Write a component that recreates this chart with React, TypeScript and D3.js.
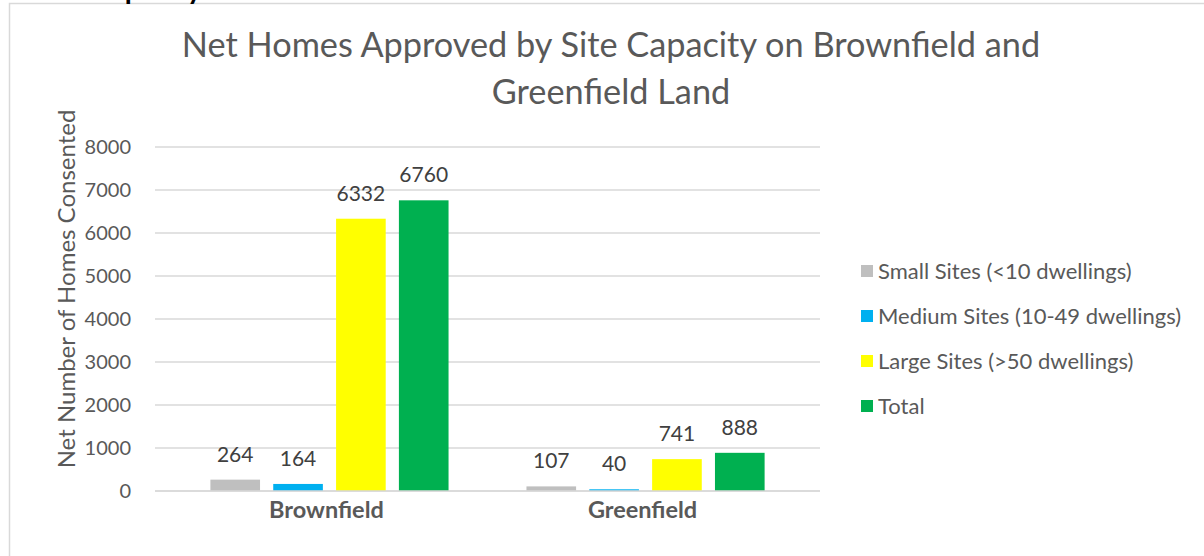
import React, { useEffect, useRef } from 'react';
import * as d3 from 'd3';

const categories = ['Brownfield', 'Greenfield'];
const seriesNames = [
  'Small Sites (<10 dwellings)',
  'Medium Sites (10-49 dwellings)',
  'Large Sites (>50 dwellings)',
  'Total',
];
const seriesColors = ['#bfbfbf', '#00b0f0', '#ffff00', '#00b050'];
// values[series][category]
const smallSites = [264, 107];
const mediumSites = [164, 40];
const largeSites = [6332, 741];
const totals = [6760, 888];
const yTicks = [0, 1000, 2000, 3000, 4000, 5000, 6000, 7000, 8000];

const FONT = 'Lato, "Open Sans", sans-serif';

const App: React.FC = () => {
  const ref = useRef<SVGSVGElement>(null);

  useEffect(() => {
    if (!ref.current) return;
    const svg = d3.select(ref.current);
    svg.selectAll('*').remove();

    const W = 1204;
    const H = 556;
    const plot = { left: 155, right: 820, top: 147, bottom: 491 };
    const values = [smallSites, mediumSites, largeSites, totals];

    // chart border
    svg.append('rect')
      .attr('x', 9.5).attr('y', 3.5)
      .attr('width', W + 10).attr('height', H + 10)
      .attr('fill', '#fff').attr('stroke', '#d9d9d9').attr('stroke-width', 1.5);

    // heading above the chart, mostly outside the view (only descenders show)
    svg.append('text')
      .attr('x', 36).attr('y', -1)
      .attr('font-family', FONT).attr('font-weight', 700).attr('font-size', 28.5)
      .attr('fill', '#000')
      .text('Site Capacity');

    const y = d3.scaleLinear().domain([0, 8000]).range([plot.bottom, plot.top]);
    const x0 = d3.scaleBand<string>().domain(categories)
      .range([plot.left, plot.right]).paddingInner(0).paddingOuter(0.052);
    const x1 = d3.scaleBand<string>().domain(seriesNames)
      .range([0, x0.bandwidth()]).paddingInner(0.21).paddingOuter(0.62);

    // gridlines
    svg.append('g').selectAll('line').data(yTicks).join('line')
      .attr('x1', plot.left).attr('x2', plot.right)
      .attr('y1', d => y(d)).attr('y2', d => y(d))
      .attr('stroke', '#d9d9d9').attr('stroke-width', 1.5);

    // y tick labels
    svg.append('g').selectAll('text').data(yTicks).join('text')
      .attr('x', 131).attr('y', d => y(d)).attr('dy', '0.35em')
      .attr('text-anchor', 'end')
      .attr('font-family', FONT).attr('font-size', 20).attr('fill', '#595959')
      .text(d => String(d));

    // y axis title
    svg.append('text')
      .attr('transform', `translate(75,${(plot.top + plot.bottom) / 2 - 30}) rotate(-90)`)
      .attr('text-anchor', 'middle')
      .attr('font-family', FONT).attr('font-size', 24).attr('fill', '#595959')
      .text('Net Number of Homes Consented');

    // bars
    const groups = svg.append('g').selectAll('g').data(categories).join('g')
      .attr('transform', c => `translate(${x0(c)},0)`);

    groups.each(function (c, ci) {
      const g = d3.select(this);
      seriesNames.forEach((s, si) => {
        const v = values[si][ci];
        g.append('rect')
          .attr('x', x1(s)!).attr('y', y(v))
          .attr('width', x1.bandwidth()).attr('height', y(0) - y(v))
          .attr('fill', seriesColors[si]);
        g.append('text')
          .attr('x', x1(s)! + x1.bandwidth() / 2).attr('y', y(v) - 18)
          .attr('text-anchor', 'middle')
          .attr('font-family', FONT).attr('font-size', 21).attr('fill', '#404040')
          .text(String(v));
      });
    });

    // baseline
    svg.append('line')
      .attr('x1', plot.left).attr('x2', plot.right)
      .attr('y1', y(0)).attr('y2', y(0))
      .attr('stroke', '#d9d9d9').attr('stroke-width', 1.5);

    // category labels
    svg.append('g').selectAll('text').data(categories).join('text')
      .attr('x', c => x0(c)! + x0.bandwidth() / 2 - 3).attr('y', 518)
      .attr('text-anchor', 'middle')
      .attr('font-family', FONT).attr('font-weight', 700).attr('font-size', 23.5)
      .attr('fill', '#595959')
      .text(c => c);

    // title
    const title = svg.append('text')
      .attr('text-anchor', 'middle')
      .attr('font-family', FONT).attr('font-size', 34.3).attr('fill', '#595959');
    title.append('tspan').attr('x', 611).attr('y', 57)
      .text('Net Homes Approved by Site Capacity on Brownfield and');
    title.append('tspan').attr('x', 611).attr('y', 104)
      .text('Greenfield Land');

    // legend
    const legend = svg.append('g').selectAll('g').data(seriesNames).join('g')
      .attr('transform', (d, i) => `translate(861,${271 + i * 45})`);
    legend.append('rect')
      .attr('x', 0).attr('y', -6).attr('width', 12).attr('height', 12)
      .attr('fill', (d, i) => seriesColors[i]);
    legend.append('text')
      .attr('x', 17).attr('y', 0).attr('dy', '0.35em')
      .attr('font-family', FONT).attr('font-size', 22).attr('fill', '#595959')
      .text(d => d);
  }, []);

  return (
    <svg
      ref={ref}
      width={1204}
      height={556}
      style={{ position: 'absolute', left: 0, top: 0, background: '#fff' }}
    />
  );
};

export default App;
